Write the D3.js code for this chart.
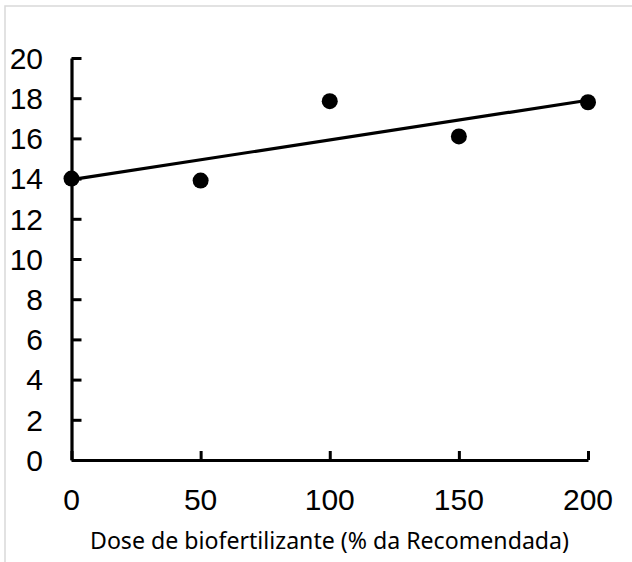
<!DOCTYPE html>
<html>
<head>
<meta charset="utf-8">
<script src="https://cdn.jsdelivr.net/npm/d3@7"></script>
<style>
  body { margin: 0; background: #fff; }
  svg { display: block; }
</style>
</head>
<body>
<svg id="chart"></svg>
<script>
// data
const doses = [0, 50, 100, 150, 200];
const values = [14.0, 13.9, 17.85, 16.1, 17.8];
const trendX = [0, 200];
const trendY = [13.95, 17.9];
const xTicks = [0, 50, 100, 150, 200];
const yTicks = [0, 2, 4, 6, 8, 10, 12, 14, 16, 18, 20];
const xTitle = "Dose de biofertilizante (% da Recomendada)";

const [w, h] = [632, 562];
const svg = d3.select("#chart").attr("width", w).attr("height", h);

// chart frame
svg.append("rect").attr("x", 5).attr("y", 6).attr("width", 700).attr("height", 700)
  .attr("fill", "none").attr("stroke", "#d9d9d9").attr("stroke-width", 1.5);

const xScale = d3.scaleLinear().domain([0, 200]).range([71.5, 588]);
const yScale = d3.scaleLinear().domain([0, 20]).range([460, 58]);

const numFont = "'Liberation Sans', Arial, sans-serif";

// y axis, ticks pointing inward
const yAxis = d3.axisRight(yScale).tickValues(yTicks).tickSize(10).tickSizeOuter(0).tickFormat("");
const gy = svg.append("g").attr("transform", `translate(${xScale(0)},0)`).call(yAxis);
gy.select(".domain").attr("stroke", "#000").attr("stroke-width", 3.2);
gy.selectAll(".tick line").attr("stroke", "#000").attr("stroke-width", 3);

// x axis, ticks pointing up
const xAxis = d3.axisTop(xScale).tickValues(xTicks).tickSize(9).tickSizeOuter(0).tickFormat("");
const gx = svg.append("g").attr("transform", `translate(0,${yScale(0)})`).call(xAxis);
gx.select(".domain").attr("stroke", "#000").attr("stroke-width", 3.2);
gx.selectAll(".tick line").attr("stroke", "#000").attr("stroke-width", 3);

// tick labels
svg.append("g").selectAll("text").data(yTicks).enter().append("text")
  .attr("x", 43).attr("y", d => yScale(d)).attr("dy", "0.36em")
  .attr("text-anchor", "end").attr("font-family", numFont).attr("font-size", 30)
  .text(d => d);

svg.append("g").selectAll("text").data(xTicks).enter().append("text")
  .attr("x", d => xScale(d)).attr("y", 510)
  .attr("text-anchor", "middle").attr("font-family", numFont).attr("font-size", 30)
  .text(d => d);

// axis title
svg.append("text").attr("x", 329.5).attr("y", 549)
  .attr("text-anchor", "middle").attr("font-family", "'Noto Sans', 'Open Sans', sans-serif")
  .attr("font-size", 23).attr("textLength", 479).attr("lengthAdjust", "spacingAndGlyphs")
  .text(xTitle);

// trend line
const line = d3.line().x(d => xScale(d[0])).y(d => yScale(d[1]));
svg.append("path").datum(d3.zip(trendX, trendY)).attr("d", line)
  .attr("fill", "none").attr("stroke", "#000").attr("stroke-width", 3.2);

// points
svg.append("g").selectAll("circle").data(d3.zip(doses, values)).enter().append("circle")
  .attr("cx", d => xScale(d[0])).attr("cy", d => yScale(d[1])).attr("r", 8)
  .attr("fill", "#000");
</script>
</body>
</html>
